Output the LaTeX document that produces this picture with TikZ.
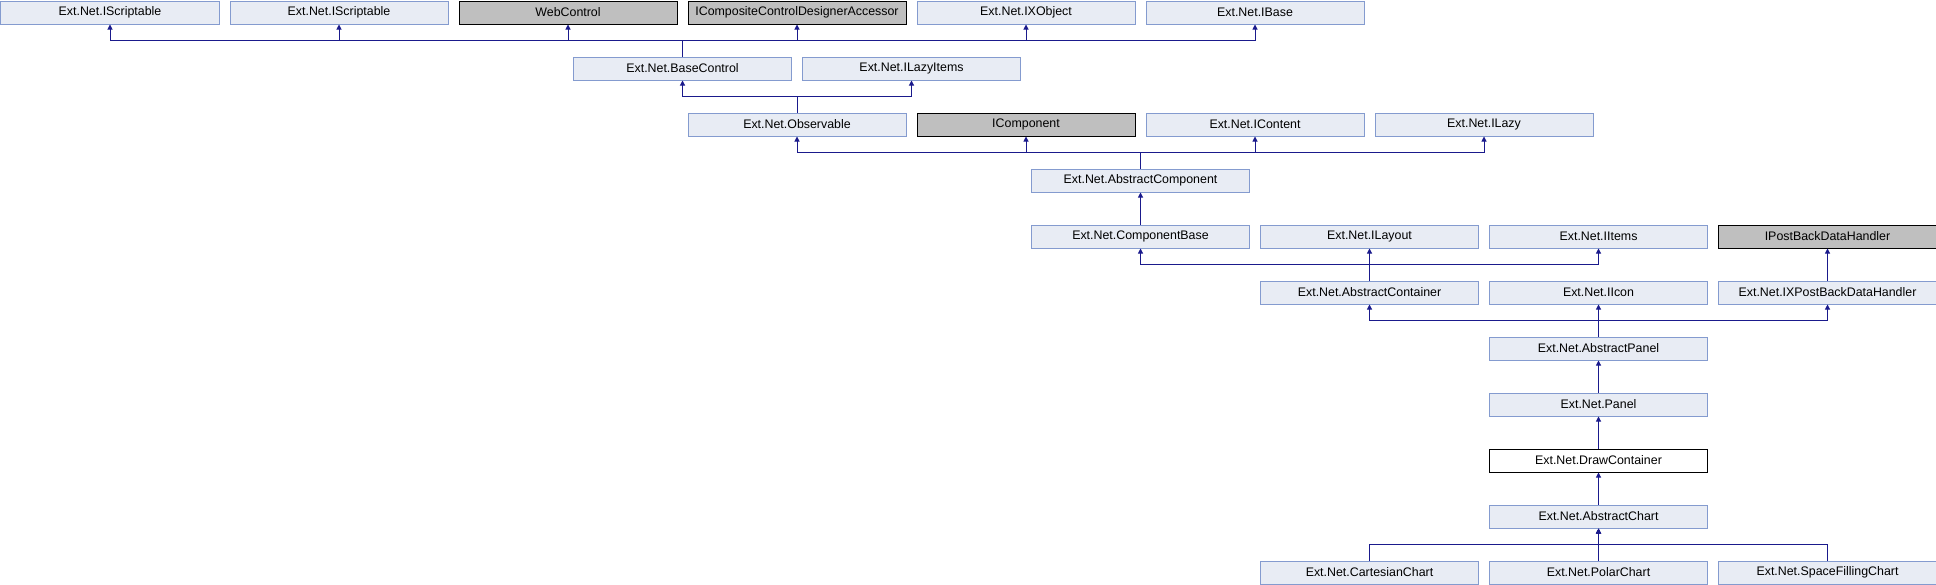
\documentclass[tikz,border=0pt]{standalone}
\usepackage{fontspec}
\setmainfont{Liberation Sans}
\usetikzlibrary{arrows.meta}
\definecolor{clsfill}{RGB}{232,236,244}
\definecolor{clsdraw}{RGB}{132,155,207}
\definecolor{extfill}{RGB}{191,191,191}
\definecolor{inhline}{RGB}{26,26,140}
\begin{document}
\begin{tikzpicture}[x=229pt,y=-56pt,
  cls/.style={draw=clsdraw,fill=clsfill,line width=1pt,anchor=north west,
    minimum width=218pt,minimum height=23pt,inner sep=0pt,
    font=\fontsize{12.4}{14}\selectfont},
  ext/.style={cls,draw=black,fill=extfill},
  cur/.style={cls,draw=black,fill=white},
  inh/.style={draw=inhline,line width=1pt,-{Triangle[length=5pt,width=5pt]}}]
 \useasboundingbox (-0.5pt,0.5pt) rectangle (1935.5pt,-583.5pt);
 % interfaces and bases at the top
 \node[cls] (iscra)  at (0,0) {Ext.Net.IScriptable};
 \node[cls] (iscrb)  at (1,0) {Ext.Net.IScriptable};
 \node[ext] (webctl) at (2,0) {WebControl};
 \node[ext] (iccda)  at (3,0) {ICompositeControlDesignerAccessor};
 \node[cls] (ixobj)  at (4,0) {Ext.Net.IXObject};
 \node[cls] (ibase)  at (5,0) {Ext.Net.IBase};
 \node[cls] (basectl)    at (2.5,1) {Ext.Net.BaseControl};
 \node[cls] (ilazyitems) at (3.5,1) {Ext.Net.ILazyItems};
 \node[cls] (observ)   at (3,2) {Ext.Net.Observable};
 \node[ext] (icomp)    at (4,2) {IComponent};
 \node[cls] (icontent) at (5,2) {Ext.Net.IContent};
 \node[cls] (ilazy)    at (6,2) {Ext.Net.ILazy};
 \node[cls] (abscomp)  at (4.5,3) {Ext.Net.AbstractComponent};
 \node[cls] (compbase) at (4.5,4) {Ext.Net.ComponentBase};
 \node[cls] (ilayout)  at (5.5,4) {Ext.Net.ILayout};
 \node[cls] (iitems)   at (6.5,4) {Ext.Net.IItems};
 \node[ext] (ipbdh)    at (7.5,4) {IPostBackDataHandler};
 \node[cls] (abscont)  at (5.5,5) {Ext.Net.AbstractContainer};
 \node[cls] (iicon)    at (6.5,5) {Ext.Net.IIcon};
 \node[cls] (ixpbdh)   at (7.5,5) {Ext.Net.IXPostBackDataHandler};
 % the panel chain
 \node[cls] (abspanel) at (6.5,6) {Ext.Net.AbstractPanel};
 \node[cls] (panel)    at (6.5,7) {Ext.Net.Panel};
 \node[cur] (drawcont) at (6.5,8) {Ext.Net.DrawContainer};
 \node[cls] (abschart) at (6.5,9) {Ext.Net.AbstractChart};
 \node[cls] (cartchart) at (5.5,10) {Ext.Net.CartesianChart};
 \node[cls] (polchart)  at (6.5,10) {Ext.Net.PolarChart};
 \node[cls] (sfchart)   at (7.5,10) {Ext.Net.SpaceFillingChart};
 % inheritance
 \foreach \p in {iscra,iscrb,webctl,iccda,ixobj,ibase}
   \draw[inh] (basectl.north) -- ++(0,16.5pt) -| (\p.south);
 \foreach \p in {basectl,ilazyitems}
   \draw[inh] (observ.north) -- ++(0,16.5pt) -| (\p.south);
 \foreach \p in {observ,icomp,icontent,ilazy}
   \draw[inh] (abscomp.north) -- ++(0,16.5pt) -| (\p.south);
 \draw[inh] (compbase) -- (abscomp);
 \foreach \p in {compbase,ilayout,iitems}
   \draw[inh] (abscont.north) -- ++(0,16.5pt) -| (\p.south);
 \draw[inh] (ixpbdh) -- (ipbdh);
 \foreach \p in {abscont,iicon,ixpbdh}
   \draw[inh] (abspanel.north) -- ++(0,16.5pt) -| (\p.south);
 \draw[inh] (panel) -- (abspanel);
 \draw[inh] (drawcont) -- (panel);
 \draw[inh] (abschart) -- (drawcont);
 \foreach \c in {cartchart,polchart,sfchart}
   \draw[inh] (\c.north) -- ++(0,16.5pt) -| (abschart.south);
\end{tikzpicture}
\end{document}
